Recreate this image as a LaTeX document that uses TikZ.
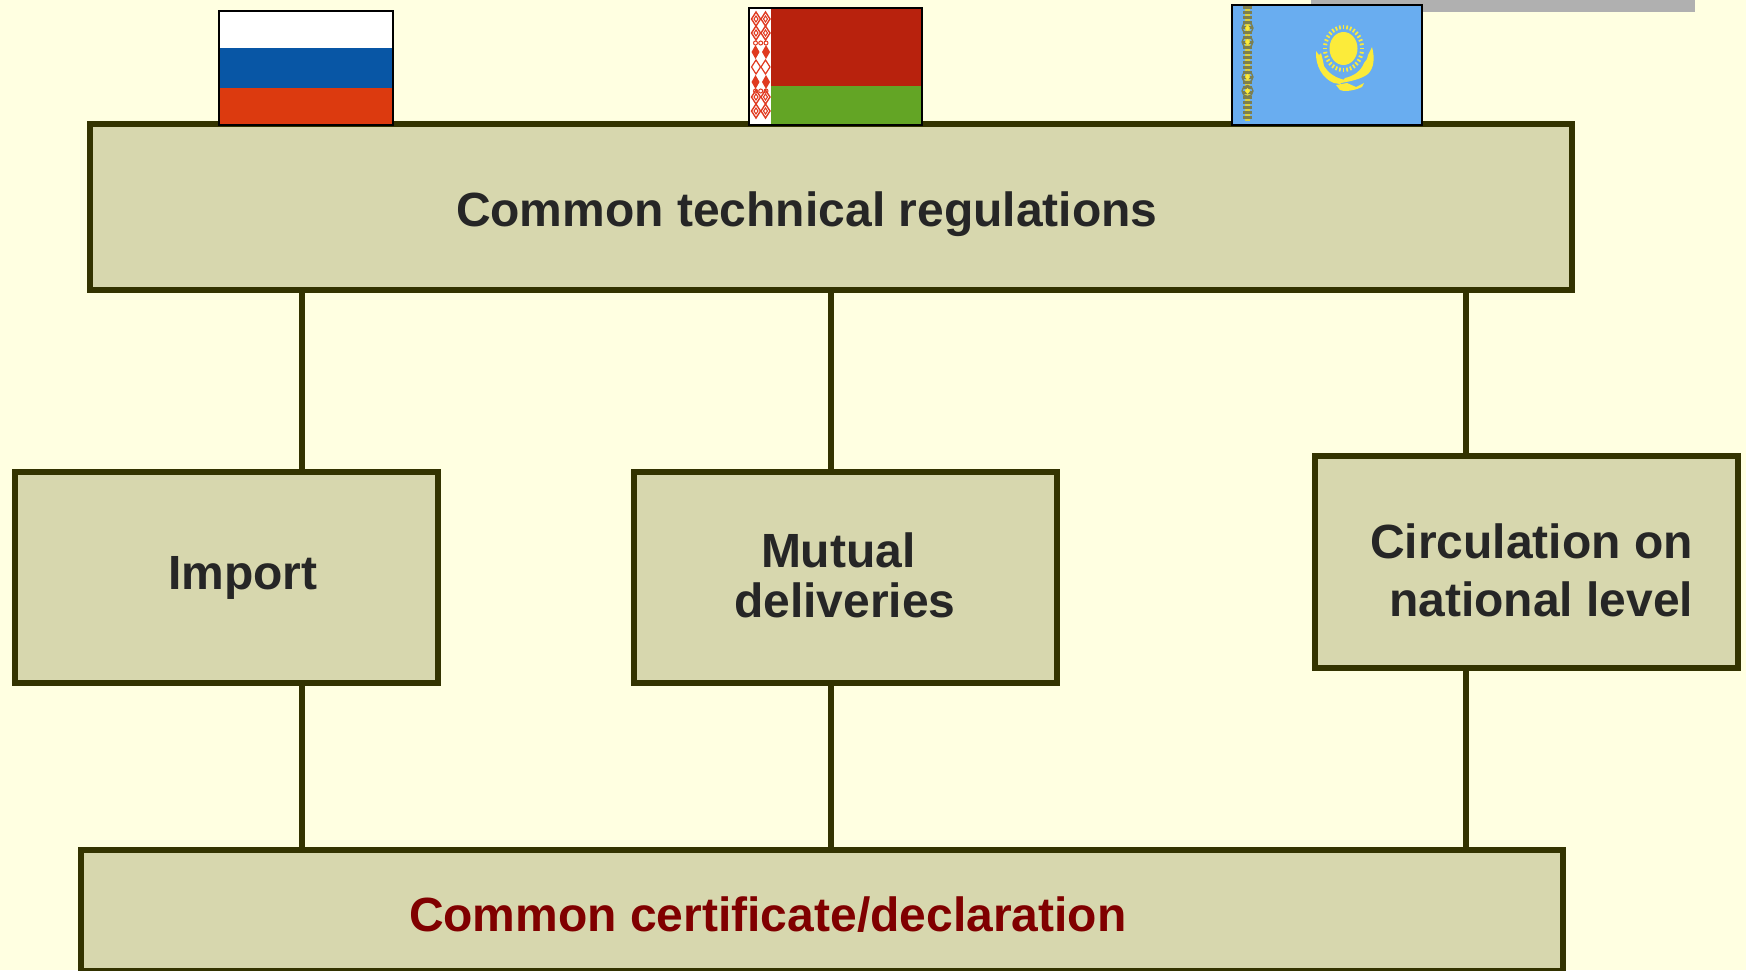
\documentclass[tikz,border=0pt]{standalone}
\usepackage{fontspec}
\setmainfont{Liberation Sans}
\definecolor{bgc}{HTML}{FFFFE1}
\definecolor{boxfill}{HTML}{D7D7AE}
\definecolor{boxline}{HTML}{333300}
\definecolor{txt}{HTML}{262626}
\definecolor{dred}{HTML}{800000}
\definecolor{ruW}{HTML}{FFFFFF}
\definecolor{ruB}{HTML}{0856A5}
\definecolor{ruR}{HTML}{DC3A0F}
\definecolor{byR}{HTML}{B8220D}
\definecolor{byG}{HTML}{63A525}
\definecolor{byO}{HTML}{E03A20}
\definecolor{kzB}{HTML}{69ADF0}
\definecolor{kzY}{HTML}{FCEB3A}
\definecolor{kzD}{HTML}{7C7F50}
\definecolor{topbar}{HTML}{B0B0B0}
\tikzset{
  panel/.style={draw=boxline,fill=boxfill,line width=6.5pt,inner sep=0pt,outer sep=0pt,rectangle},
  conn/.style={draw=boxline,line width=6.8pt},
  lab/.style={anchor=base west,inner sep=0pt,outer sep=0pt,text=txt,font=\fontsize{48}{50}\selectfont\bfseries},
  flagframe/.style={draw=black,line width=2.2pt},
}
\begin{document}
\begin{tikzpicture}[x=1pt,y=-1pt]
\useasboundingbox (0,0) rectangle (1746,970);
\fill[bgc] (0,0) rectangle (1746,970);
\fill[topbar] (1311,0) rectangle (1695,12);

% reference x positions of the connectors
\coordinate (c1) at (302,0);
\coordinate (c2) at (831,0);
\coordinate (c3) at (1466,0);

% panels
\node[panel,minimum width=1482pt,minimum height=166pt] (top) at (831,207) {};
\node[panel,minimum width=423pt,minimum height=211pt] (imp) at (226.5,577.5) {};
\node[panel,minimum width=423pt,minimum height=211pt] (mut) at (845.5,577.5) {};
\node[panel,minimum width=423pt,minimum height=212pt] (cir) at (1526.5,562) {};
\node[panel,minimum width=1482pt,minimum height=121pt] (bot) at (822,910.5) {};

% connectors
\draw[conn] (top.south -| c1) -- (imp.north -| c1);
\draw[conn] (top.south -| c2) -- (mut.north -| c2);
\draw[conn] (top.south -| c3) -- (cir.north -| c3);
\draw[conn] (imp.south -| c1) -- (bot.north -| c1);
\draw[conn] (mut.south -| c2) -- (bot.north -| c2);
\draw[conn] (cir.south -| c3) -- (bot.north -| c3);

% texts
\node[lab] (t1) at (456,226) {Common technical regulations};
\node[lab] (t2) at (168,589) {Import};
\node[lab] (t3) at (761,567.5) {Mutual};
\node[lab] (t4) at (734,617) {deliveries};
\node[lab] (t5) at (1370,558) {Circulation on};
\node[lab] (t6) at (1389,616) {national level};
\node[lab,text=dred] (t7) at (409,931) {Common certificate/declaration};

% Russia
\fill[ruW] (219,11) rectangle (393,48);
\fill[ruB] (219,48) rectangle (393,88);
\fill[ruR] (219,88) rectangle (393,125);
\draw[flagframe] (219,11) rectangle (393,125);

% Belarus
\fill[byR] (749,8) rectangle (922,86);
\fill[byG] (749,86) rectangle (922,125);
\fill[white] (749,8) rectangle (771,125);
\foreach \yy in {19,33,97,111}{
  \foreach \xx in {756,765.5}{
    \draw[byO,line width=1.4pt] (\xx-4.5,\yy) -- (\xx,\yy-7) -- (\xx+4.5,\yy) -- (\xx,\yy+7) -- cycle;
    \draw[byO,line width=1pt] (\xx-2,\yy) -- (\xx,\yy-3) -- (\xx+2,\yy) -- (\xx,\yy+3) -- cycle;
  }
}
\foreach \yy in {52,82}{
  \foreach \xx in {755.5,766}{
    \fill[byO] (\xx-4,\yy) -- (\xx,\yy-7) -- (\xx+4,\yy) -- (\xx,\yy+7) -- cycle;
  }
}
\foreach \yy in {43,91}{
  \foreach \xx in {755.5,760.7,766}{
    \draw[byO,line width=1pt] (\xx,\yy) circle (2);
  }
}
\foreach \xx in {756,765.5}{
  \draw[byO,line width=1.2pt] (\xx-4.5,67) -- (\xx,60) -- (\xx+4.5,67) -- (\xx,74) -- cycle;
}
\draw[flagframe] (749,8) rectangle (922,125);

% Kazakhstan
\fill[kzB] (1232,5) rectangle (1422,125);
\foreach \yy in {8,13,...,122}{
  \fill[kzD] (1243,\yy-2) rectangle (1252,\yy+1);
  \fill[kzY!75!kzD] (1245,\yy+0.5) rectangle (1250,\yy+2.5);
}
\foreach \yy in {35,84}{
  \draw[kzD,line width=1.3pt] (1247.5,\yy-7) circle (5.5);
  \draw[kzD,line width=1.3pt] (1247.5,\yy+7) circle (5.5);
  \fill[kzY] (1247.5,\yy-10) -- (1250,\yy-7) -- (1247.5,\yy-4) -- (1245,\yy-7) -- cycle;
  \fill[kzY] (1247.5,\yy+4) -- (1250,\yy+7) -- (1247.5,\yy+10) -- (1245,\yy+7) -- cycle;
}
\fill[kzY] (1343.5,48.5) ellipse [x radius=14,y radius=16.5];
\foreach \a in {0,11.25,...,349}{
  \draw[kzY,line width=1.7pt] ({1343.5+16.5*cos(\a)},{48.5+19.5*sin(\a)}) -- ({1343.5+20.5*cos(\a)},{48.5+23.5*sin(\a)});
}
% wings and eagle
\fill[kzY] (1316,51) -- (1319,55) -- (1321,53) -- (1323,61) -- (1324,66)
  .. controls (1329,74) and (1336,78) .. (1345,80) -- (1340,84) -- (1334,83)
  .. controls (1323,79) and (1315,66) .. (1316,51) -- cycle;
\fill[kzY] (1372,47) .. controls (1375,58) and (1374,68) .. (1368,74)
  .. controls (1361,79) and (1352,81) .. (1341,83) -- (1345,78)
  .. controls (1354,76) and (1361,71) .. (1364,63) -- (1367,59) -- (1368,55) -- cycle;
\fill[kzY] (1336,85) -- (1347,83) -- (1356,87) -- (1364,83) -- (1362,87)
  .. controls (1356,90) and (1350,91) .. (1344,91) -- (1340,90) -- cycle;
\draw[flagframe] (1232,5) rectangle (1422,125);
\end{tikzpicture}
\end{document}
